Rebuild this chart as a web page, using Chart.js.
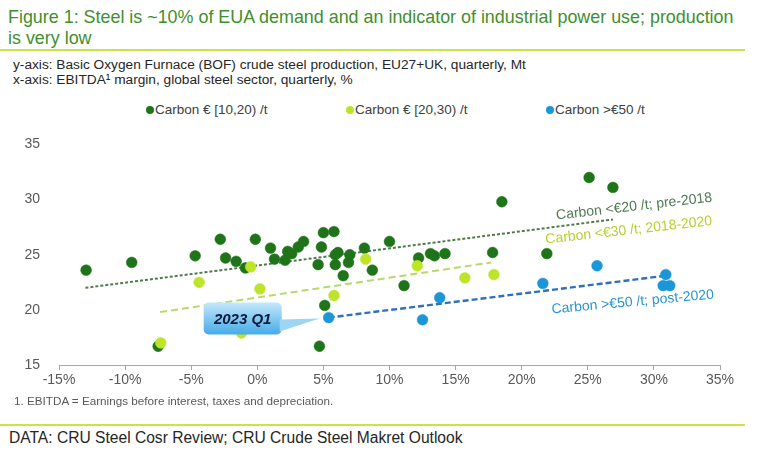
<!DOCTYPE html>
<html>
<head>
<meta charset="utf-8">
<script src="https://cdn.jsdelivr.net/npm/chart.js@4.4.1/dist/chart.umd.min.js"></script>
<style>
  body { margin: 0; background: #fff; font-family: "Liberation Sans", Arial, sans-serif; }
  #wrap { position: relative; width: 758px; height: 451px; overflow: hidden; }
  #title { position: absolute; left: 8px; top: 7px; width: 750px; font-size: 17.9px; line-height: 21px; color: #3f8f2d; white-space: nowrap; }
  .rule { position: absolute; left: 0; width: 745px; height: 2px; background: #c6e645; }
  #sub { position: absolute; left: 13px; top: 57px; font-size: 13.7px; line-height: 15px; color: #262626; }
  #legend { position: absolute; left: 0; top: 102px; width: 758px; height: 16px; font-size: 13.5px; color: #404040; }
  .item { position: absolute; top: 0; white-space: nowrap; }
  .dot { display: inline-block; width: 8px; height: 8px; border-radius: 50%; margin-right: 1px; vertical-align: 0px; }
  #chartBox { position: absolute; left: 0; top: 125px; width: 758px; height: 270px; }
  #note { position: absolute; left: 14px; top: 394px; font-size: 11.7px; color: #595959; }
  #source { position: absolute; left: 9px; top: 429px; font-size: 15.6px; color: #262626; }
</style>
</head>
<body>
<div id="wrap">
  <div id="title">Figure 1: Steel is ~10% of EUA demand and an indicator of industrial power use; production<br>is very low</div>
  <div class="rule" style="top:49px"></div>
  <div id="sub">y-axis: Basic Oxygen Furnace (BOF) crude steel production, EU27+UK, quarterly, Mt<br>x-axis: EBITDA&sup1; margin, global steel sector, quarterly, %</div>
  <div id="legend"></div>
  <div id="chartBox"><canvas id="chart" width="758" height="270"></canvas></div>
  <div id="note">1. EBITDA = Earnings before interest, taxes and depreciation.</div>
  <div class="rule" style="top:424px"></div>
  <div id="source">DATA: CRU Steel Cosr Review; CRU Crude Steel Makret Outlook</div>
</div>
<script>
'use strict';

// series names and colours
const seriesNames = ['Carbon € [10,20) /t', 'Carbon € [20,30) /t', 'Carbon >€50 /t']
const seriesColors = ['#1f7419', '#bde428', '#1b96d8']

// EBITDA margin (%) and BOF production (Mt)
const lowX = [-12.95, -9.5, -7.5, -4.7, -2.8, -2.4, -1.6, -0.9, -0.15, 1.0, 1.3, 2.1, 2.3, 2.6, 3.1, 3.5, 4.6, 4.7, 4.85, 5.0,
    5.1, 5.8, 5.9, 5.9, 6.1, 6.5, 6.9, 7.0, 8.1, 8.7, 10.0, 11.1, 12.2, 13.1, 13.4, 14.2, 17.8, 18.5, 21.9, 25.1, 26.9]
const lowY = [23.6, 24.3, 16.7, 24.9, 26.4, 24.7, 24.4, 23.8, 26.4, 25.6, 24.6, 24.5, 25.3, 25.1, 25.7, 26.2, 24.1, 16.7, 25.7, 27.0,
    20.4, 27.1, 25.0, 24.1, 25.2, 23.1, 24.3, 25.0, 25.6, 23.6, 26.2, 22.2, 24.7, 25.1, 24.9, 25.1, 25.2, 29.8, 25.1, 32.0, 31.1]

const midX = [-7.3, -4.4, -1.2, -0.5, 0.2, 5.8, 8.2, 12.1, 15.7, 17.9]
const midY = [17.0, 22.5, 17.9, 23.9, 21.9, 21.3, 24.6, 24.0, 22.9, 23.2]

const highX = [5.4, 12.5, 13.8, 21.6, 25.7, 30.7, 30.9, 31.2]
const highY = [19.3, 19.1, 21.1, 22.4, 24.0, 22.2, 23.2, 22.2]

// trend lines: [start, end] as x and y
const trendNames = ['Carbon <€20 /t; pre-2018', 'Carbon <€30 /t; 2018-2020', 'Carbon >€50 /t; post-2020']
const trendX = [[-13.0, 26.9], [-7.35, 17.7], [5.4, 30.6]]
const trendY = [[22.0, 28.2], [19.8, 24.3], [19.3, 23.05]]
const trendColors = ['#4e7d4a', '#b9d86a', '#2f70bd']
const trendLabelColors = ['#4f7a55', '#b6d22f', '#2a94d0']
const trendDash = [[3, 2], [7, 4], [6, 3]]
// where each trend label sits (x, y) and its tilt in degrees
const trendLabelX = [28.5, 28.1, 28.4]
const trendLabelY = [29.35, 27.2, 20.7]
const trendLabelTilt = [-6.6, -6.4, -5.3]

const xTicks = [-15, 35, 5]
const yTicks = [15, 35, 5]

const callout = { text: '2023 Q1', series: 2, index: 0 }

// legend
const legendLeft = [146, 346, 546]
const legendEl = document.getElementById('legend')
seriesNames.forEach((n, i) => {
    const d = document.createElement('div')
    d.className = 'item'
    d.style.left = legendLeft[i] + 'px'
    d.innerHTML = `<span class="dot" style="background:${seriesColors[i]}"></span>${n}`
    legendEl.appendChild(d)
})

const pts = (xs, ys) => xs.map((x, i) => ({ x: x, y: ys[i] }))

const datasets = []
const seriesXY = [[lowX, lowY], [midX, midY], [highX, highY]]
seriesXY.forEach((s, i) => {
    datasets.push({
        label: seriesNames[i],
        data: pts(s[0], s[1]),
        backgroundColor: seriesColors[i],
        borderColor: seriesColors[i],
        borderWidth: 0.5,
        pointRadius: 5.4,
        order: 3 - i
    })
})
trendNames.forEach((n, i) => {
    datasets.push({
        type: 'line',
        label: n,
        data: pts(trendX[i], trendY[i]),
        borderColor: trendColors[i],
        borderWidth: i === 2 ? 2.4 : 2,
        borderDash: trendDash[i],
        pointRadius: 0,
        fill: false,
        order: i === 2 ? 2.5 : 10
    })
})

const labelsPlugin = {
    id: 'labels',
    afterDatasetsDraw(chart) {
        const c = chart.ctx, sx = chart.scales.x, sy = chart.scales.y
        c.save()
        c.font = '14px "Liberation Sans", Arial, sans-serif'
        c.textAlign = 'center'
        c.textBaseline = 'middle'
        trendNames.forEach((n, i) => {
            c.save()
            c.translate(sx.getPixelForValue(trendLabelX[i]), sy.getPixelForValue(trendLabelY[i]))
            c.rotate(trendLabelTilt[i] * Math.PI / 180)
            c.fillStyle = trendLabelColors[i]
            c.fillText(n, 0, 0)
            c.restore()
        })

        // 2023 Q1 callout
        const p = chart.getDatasetMeta(callout.series).data[callout.index]
        const L = p.x - 125, R = p.x - 47, T = p.y - 15, B = p.y + 17
        const g = c.createLinearGradient(0, T, 0, B)
        g.addColorStop(0, '#c4e8fb')
        g.addColorStop(1, '#45abe8')
        c.fillStyle = g
        c.beginPath()
        c.roundRect(L, T, R - L, B - T, 5)
        c.fill()
        c.beginPath()
        c.moveTo(R - 2, p.y + 2)
        c.lineTo(p.x - 9, p.y + 1)
        c.lineTo(R - 2, p.y + 14)
        c.closePath()
        c.fillStyle = '#9dd6f5'
        c.fill()
        c.fillStyle = '#0b1a3d'
        c.font = 'italic bold 15px "Liberation Sans", Arial, sans-serif'
        c.fillText(callout.text, (L + R) / 2, (T + B) / 2 + 1)
        c.restore()
    }
}

const ctx = document.getElementById('chart').getContext('2d')
const chart = new Chart(ctx, {
    type: 'scatter',
    data: { datasets: datasets },
    options: {
        responsive: false,
        animation: false,
        layout: { padding: { top: 10, right: 38, left: 0, bottom: 0 } },
        plugins: { legend: { display: false }, tooltip: { enabled: false } },
        scales: {
            x: {
                type: 'linear',
                min: xTicks[0], max: xTicks[1],
                ticks: {
                    stepSize: xTicks[2],
                    callback: v => v + '%',
                    color: '#595959',
                    font: { family: '"Liberation Sans", Arial, sans-serif', size: 14 },
                    padding: 2,
                    maxRotation: 0
                },
                grid: { drawOnChartArea: false, drawTicks: true, tickLength: 5, color: '#a6a6a6' },
                border: { color: '#a6a6a6', width: 1 },
                afterFit: s => { s.height = 30 }
            },
            y: {
                min: yTicks[0], max: yTicks[1],
                ticks: {
                    stepSize: yTicks[2],
                    color: '#595959',
                    font: { family: '"Liberation Sans", Arial, sans-serif', size: 14 },
                    padding: 11
                },
                grid: { display: false },
                border: { display: false },
                afterFit: s => { s.width = 59 }
            }
        }
    },
    plugins: [labelsPlugin]
})
</script>
</body>
</html>
